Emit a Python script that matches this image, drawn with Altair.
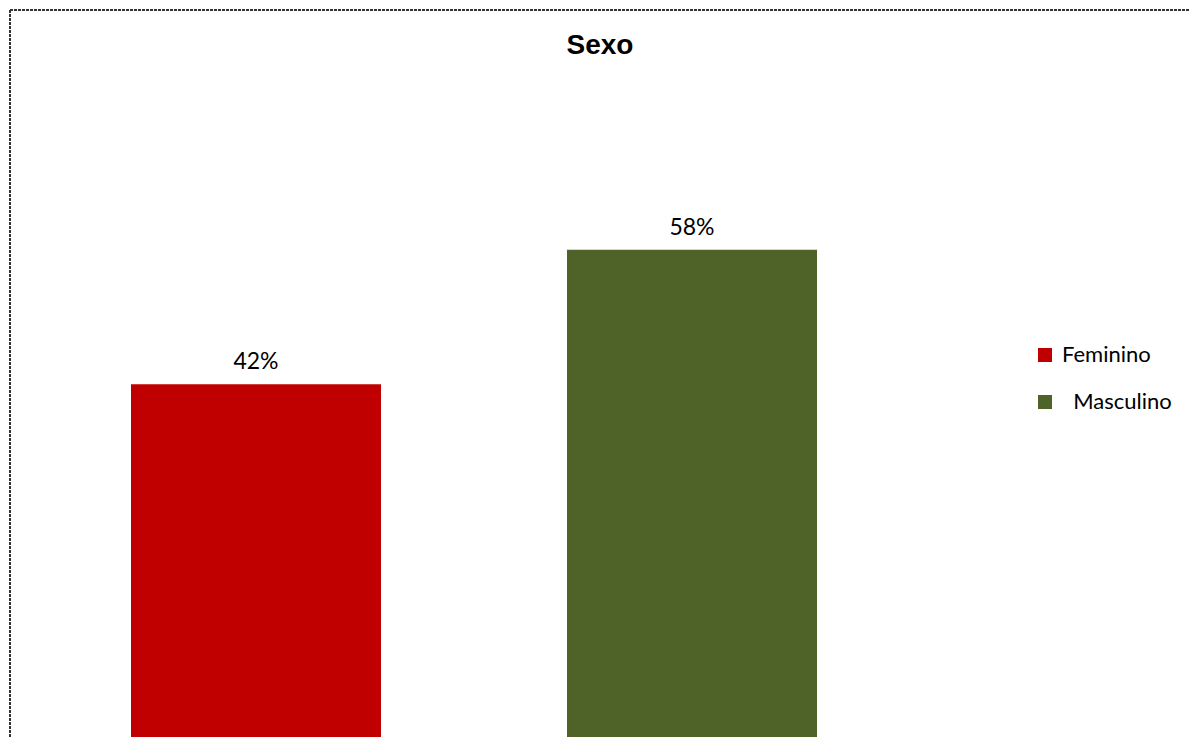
import altair as alt
import pandas as pd

# ---- data ----
categorias = ["Feminino", "Masculino"]
valores = [42, 58]
etiquetas = ["42%", "58%"]
colores = ["#C00000", "#4F6228"]
titulo = "Sexo"

W, H = 1180, 727

df = pd.DataFrame({"Sexo": categorias, "valor": valores, "etiqueta": etiquetas})

x_enc = alt.X("Sexo:N", sort=categorias, axis=None,
              scale=alt.Scale(range=[0, 928], paddingInner=0.4266, paddingOuter=0.2775))
y_enc = alt.Y("valor:Q", axis=None, scale=alt.Scale(domain=[0, 86.55], nice=False, zero=True))

base = alt.Chart(df)

bars = base.mark_bar().encode(
    x=x_enc,
    y=y_enc,
    color=alt.Color(
        "Sexo:N",
        sort=categorias,
        scale=alt.Scale(domain=categorias, range=colores),
        legend=alt.Legend(
            title=None,
            orient="none",
            legendX=1024,
            legendY=334,
            symbolType="square",
            symbolSize=196,
            symbolStrokeWidth=0,
            symbolOpacity=1,
            labelFont="Lato",
            labelFontSize=22,
            labelColor="#000000",
            labelOffset=6,
            rowPadding=25,
            padding=0,
            labelExpr="datum.label == 'Masculino' ? '\u200b\u00a0\u00a0' + datum.label : datum.label",
        ),
    ),
)

labels = base.mark_text(
    font="Lato", fontSize=23, color="#000000", baseline="alphabetic", align="center", dy=-15
).encode(x=x_enc, y=y_enc, text="etiqueta:N")

frame = alt.Chart(alt.Data(values=[{}]))
left_border = frame.mark_rule(color="#333333", strokeWidth=2, strokeDash=[3, 1]).encode(
    x=alt.value(0), y=alt.value(0), y2=alt.value(H + 10)
)
top_border = frame.mark_rule(color="#333333", strokeWidth=2, strokeDash=[3, 1]).encode(
    x=alt.value(0), x2=alt.value(W + 10), y=alt.value(0)
)

chart = (
    alt.layer(bars, labels, left_border, top_border)
    .properties(
        width=W,
        height=H,
        autosize=alt.AutoSizeParams(type="none"),
        padding={"left": 2, "top": 2, "right": 0, "bottom": 0},
        title=alt.TitleParams(
            titulo, anchor="middle", frame="group", font="Liberation Sans",
            fontSize=28, fontWeight="bold", color="#000000",
            baseline="alphabetic", offset=0, dy=73,
        ),
    )
    .configure_view(stroke=None)
)

chart.save("out.html", embed_options={"renderer": "svg", "actions": False})
